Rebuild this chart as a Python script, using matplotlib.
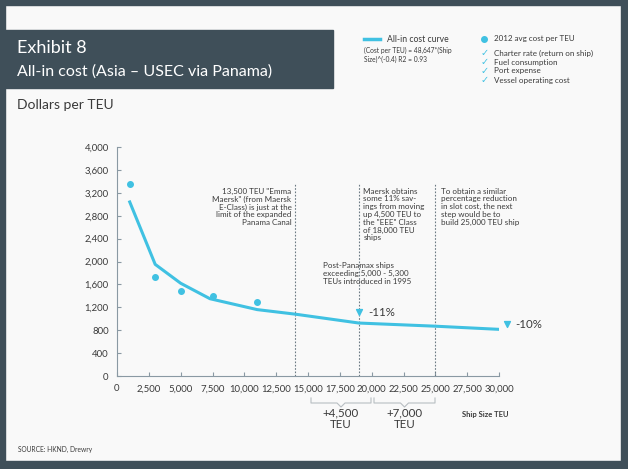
import numpy as np
import matplotlib
matplotlib.use("Agg")
import matplotlib.pyplot as plt
from matplotlib.patches import Rectangle
from matplotlib.lines import Line2D

# data
curve_x = [1000, 3000, 5000, 7300, 11000, 14000, 19000, 25000, 30000]
curve_y = [3040, 1950, 1620, 1350, 1160, 1080, 925, 870, 815]
dots_x = [1000, 3000, 5000, 7500, 11000]
dots_y = [3360, 1730, 1480, 1390, 1290]
tri_x = [19000, 30600]
tri_y = [1110, 905]
tri_labels = ["-11%", "-10%"]
vline_x = [14000, 19000, 25000]
xticks = np.arange(0, 30001, 2500)
yticks = np.arange(0, 4001, 400)

W, H = 628, 469
CYAN = "#40c1e2"
DARK = "#3f4f59"
TEXT = "#3a3a3a"
plt.rcParams['font.family'] = ['Lato', 'DejaVu Sans']

fig = plt.figure(figsize=(W / 100, H / 100), dpi=100)
fig.patch.set_facecolor("#f9f9f9")

def fx(x):
    return x / W

def fy(y):
    return 1 - y / H

# dark frame
for r in [(0, 0, 5, H), (W - 7, 0, 7, H), (0, 0, W, 5), (0, H - 8, W, 8)]:
    fig.add_artist(Rectangle((fx(r[0]), fy(r[1] + r[3])), r[2] / W, r[3] / H,
                             transform=fig.transFigure, color=DARK, zorder=0))

# title box
fig.add_artist(Rectangle((fx(5), fy(88)), 328 / W, 58 / H, transform=fig.transFigure,
                         color=DARK, zorder=1))
fig.text(fx(17), fy(48), "Exhibit 8", color="white", fontsize=13, va="center", zorder=2)
fig.text(fx(17), fy(72), "All-in cost (Asia \u2013 USEC via Panama)", color="white",
         fontsize=11.5, va="center", zorder=2)
fig.text(fx(17), fy(105), "Dollars per TEU", color=TEXT, fontsize=10, va="center")

# legend
fig.add_artist(Line2D([fx(364), fx(380)], [fy(39), fy(39)], color=CYAN, lw=2.5,
                      transform=fig.transFigure))
fig.text(fx(387), fy(39), "All-in cost curve", color=TEXT, fontsize=6.2, va="center")
fig.text(fx(364), fy(47), "(Cost per TEU) = 48,647*(Ship\nSize)^(-0.4) R2 = 0.93",
         color=TEXT, fontsize=4.8, va="top", linespacing=1.2)
fig.add_artist(Line2D([fx(484)], [fy(39)], marker="o", color=CYAN, ms=4,
                      transform=fig.transFigure))
fig.text(fx(494), fy(39), "2012 avg cost per TEU", color=TEXT, fontsize=5.8, va="center")
checks = ["Charter rate (return on ship)", "Fuel consumption", "Port expense",
          "Vessel operating cost"]
for i, c in enumerate(checks):
    yy = 53 + i * 9
    fig.text(fx(481), fy(yy), "\u2713", color=CYAN, fontsize=7, va="center",
             family="DejaVu Sans")
    fig.text(fx(494), fy(yy), c, color=TEXT, fontsize=5.8, va="center")

# main axes
ax = fig.add_axes([fx(117), fy(376), 382 / W, 229 / H])
ax.set_facecolor("none")
ax.plot(curve_x, curve_y, color=CYAN, lw=2.2, zorder=3)
ax.scatter(dots_x, dots_y, color=CYAN, s=16, zorder=3)
ax.scatter(tri_x, tri_y, marker="v", color=CYAN, s=18, zorder=3, clip_on=False)
for x, y, t in zip(tri_x, tri_y, tri_labels):
    ax.text(x + 700, y, t, fontsize=8.3, color=TEXT, va="center")
for x in vline_x:
    ax.plot([x, x], [0, 3350], color="#6c7a84", lw=0.8, ls=(0, (1.5, 1.5)), zorder=2)

ax.set_xlim(0, 30000)
ax.set_ylim(0, 4000)
ax.set_xticks(xticks)
ax.set_xticklabels([f"{v:,}" for v in xticks])
ax.set_yticks(yticks)
ax.set_yticklabels([f"{v:,}" for v in yticks])
for s in ["top", "right"]:
    ax.spines[s].set_visible(False)
for s in ["left", "bottom"]:
    ax.spines[s].set_color("#8a99a3")
    ax.spines[s].set_linewidth(0.8)
ax.tick_params(axis="both", direction="in", length=3, color="#8a99a3",
               labelsize=6.9, labelcolor=TEXT)
ax.tick_params(axis="y", pad=6)
ax.tick_params(axis="x", pad=6)

ann = dict(fontsize=5.8, color=TEXT, va="top", linespacing=1.13)
ax.text(13700, 3290, '13,500 TEU "Emma\nMaersk" (from Maersk\nE-Class) is just at the\n'
        'limit of the expanded\nPanama Canal', ha="right", **ann)
ax.text(19350, 3290, 'Maersk obtains\nsome 11% sav-\nings from moving\nup 4,500 TEU to\n'
        'the "EEE" Class\nof 18,000 TEU\nships', ha="left", **ann)
ax.text(25450, 3290, 'To obtain a similar\npercentage reduction\nin slot cost, the next\n'
        'step would be to\nbuild 25,000 TEU ship', ha="left", **ann)
ax.text(16150, 1990, 'Post-Panamax ships\nexceeding 5,000 - 5,300\nTEUs introduced in 1995',
        ha="left", **ann)

# brackets under the x axis
brackets = [(311, 371, "+4,500\nTEU"), (374, 435, "+7,000\nTEU")]
for x0, x1, lab in brackets:
    xm = (x0 + x1) / 2
    bx = [x0, x0, xm - 4, xm, xm + 4, x1, x1]
    by = [398, 403, 403, 407, 403, 403, 398]
    fig.add_artist(Line2D([fx(v) for v in bx], [fy(v) for v in by], color="#b8bec2",
                          lw=0.8, transform=fig.transFigure))
    fig.text(fx(xm), fy(419), lab, ha="center", va="center", fontsize=8.3, color=TEXT,
             linespacing=1.05)
fig.text(fx(462), fy(414), "Ship Size TEU", fontsize=5.5, color=TEXT, va="center",
         fontweight="bold")
fig.text(fx(18), fy(449), "SOURCE: HKND, Drewry", fontsize=4.8, color=TEXT, va="center")

fig.savefig("out.png", dpi=100, facecolor=fig.get_facecolor())
